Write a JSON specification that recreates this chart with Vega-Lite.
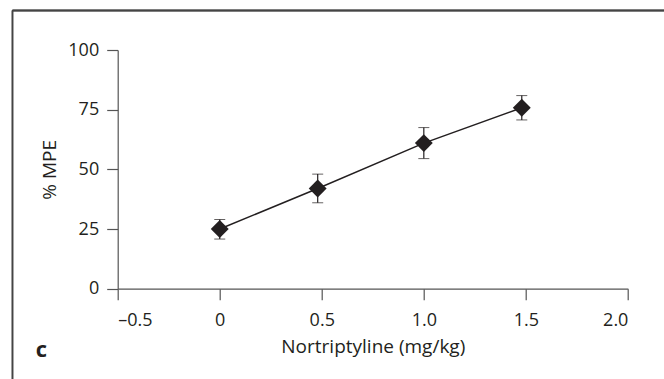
{
  "$schema": "https://vega.github.io/schema/vega-lite/v6.json",
  "autosize": "none",
  "width": 510.2,
  "height": 238.7,
  "padding": {"left": 117.7, "top": 50, "right": 36.1, "bottom": 90.3},
  "background": "white",
  "config": {
    "view": {"stroke": null},
    "font": "Open Sans",
    "axis": {
      "grid": false,
      "domainColor": "#555555",
      "tickColor": "#555555",
      "domainWidth": 1.2,
      "tickWidth": 1.2,
      "tickSize": 11,
      "labelFont": "Open Sans",
      "labelFontSize": 18,
      "labelColor": "#231f20",
      "titleFont": "Open Sans",
      "titleFontSize": 19,
      "titleFontWeight": "normal",
      "titleColor": "#231f20"
    }
  },
  "title": {
    "text": "c",
    "orient": "bottom",
    "anchor": "start",
    "frame": "group",
    "baseline": "alphabetic",
    "font": "Open Sans",
    "fontSize": 22,
    "fontWeight": "bold",
    "color": "#231f20",
    "offset": -22.6,
    "dx": -82
  },
  "data": {
    "values": [
      {"dose": 0.0, "mpe": 25.0, "lo": 20.8, "hi": 29.0},
      {"dose": 0.48, "mpe": 42.0, "lo": 36.0, "hi": 48.0},
      {"dose": 1.0, "mpe": 61.0, "lo": 54.5, "hi": 67.5},
      {"dose": 1.48, "mpe": 75.8, "lo": 70.7, "hi": 80.9}
    ]
  },
  "layer": [
    {
      "mark": {"type": "rule", "color": "#444444", "strokeWidth": 1.3},
      "encoding": {
        "x": {"datum": -1.0155, "type": "quantitative"},
        "x2": {"datum": 2.177},
        "y": {"datum": 116.55, "type": "quantitative"}
      }
    },
    {
      "mark": {"type": "rule", "color": "#444444", "strokeWidth": 1.3},
      "encoding": {
        "x": {"datum": -1.0155, "type": "quantitative"},
        "y": {"datum": 116.55, "type": "quantitative"},
        "y2": {"datum": -37.83}
      }
    },
    {
      "mark": {"type": "errorbar", "ticks": {"size": 11, "color": "#231f20", "strokeWidth": 1.2}, "rule": {"color": "#231f20", "strokeWidth": 1.2}},
      "encoding": {
        "x": {"field": "dose", "type": "quantitative"},
        "y": {"field": "lo", "type": "quantitative", "title": "% MPE"},
        "y2": {"field": "hi"}
      }
    },
    {
      "mark": {"type": "line", "color": "#231f20", "strokeWidth": 1.5},
      "encoding": {
        "x": {"field": "dose", "type": "quantitative"},
        "y": {"field": "mpe", "type": "quantitative"}
      }
    },
    {
      "mark": {"type": "point", "shape": "diamond", "filled": true, "color": "#231f20", "opacity": 1, "size": 320},
      "encoding": {
        "x": {
          "field": "dose",
          "type": "quantitative",
          "scale": {"domain": [-0.5, 2.0], "nice": false, "zero": false},
          "axis": {
            "title": "Nortriptyline (mg/kg)",
            "values": [-0.5, 0, 0.5, 1, 1.5, 2],
            "labelExpr": "datum.value == 0 ? '0' : (datum.value < 0 ? '–' + format(-datum.value, '.1f') : format(datum.value, '.1f'))",
            "labelPadding": 12,
            "titlePadding": 8
          }
        },
        "y": {
          "field": "mpe",
          "type": "quantitative",
          "title": "% MPE",
          "scale": {"domain": [0, 100], "nice": false},
          "axis": {
            "values": [0, 25, 50, 75, 100],
            "labelPadding": 8,
            "titlePadding": 8
          }
        }
      }
    }
  ]
}
